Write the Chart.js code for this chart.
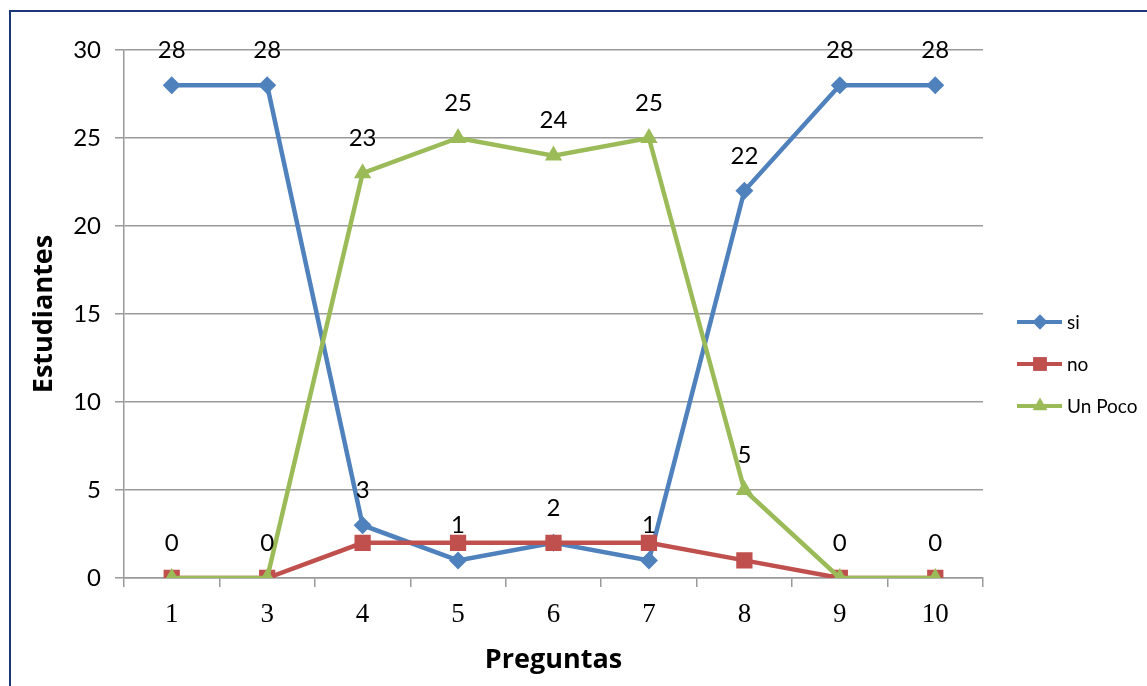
<!DOCTYPE html>
<html>
<head>
<meta charset="utf-8">
<script src="https://cdn.jsdelivr.net/npm/chart.js@4.4.1/dist/chart.umd.min.js"></script>
<style>
  html, body { margin: 0; padding: 0; background: #fff; overflow: hidden; }
  #wrap { position: relative; width: 1147px; height: 686px; }
  #frame { position: absolute; left: 9px; top: 10px; width: 1200px; height: 700px; border: 2px solid #1b3679; box-sizing: border-box; pointer-events: none; }
  canvas { position: absolute; left: 0; top: 0; }
</style>
</head>
<body>
<div id="wrap">
  <canvas id="c" width="1147" height="686"></canvas>
  <div id="frame"></div>
</div>
<script>
const categories = ['1', '3', '4', '5', '6', '7', '8', '9', '10'];
const siValues = [28, 28, 3, 1, 2, 1, 22, 28, 28];
const noValues = [0, 0, 2, 2, 2, 2, 1, 0, 0];
const unPocoValues = [0, 0, 23, 25, 24, 25, 5, 0, 0];
const seriesNames = ['si', 'no', 'Un Poco'];
const yTicks = [0, 5, 10, 15, 20, 25, 30];
const xTitle = 'Preguntas';
const yTitle = 'Estudiantes';

const colors = ['#4F81BD', '#C0504D', '#9BBB59'];
const styles = ['rectRot', 'rect', 'triangle'];
const radii = [9, 11.5, 10];
const labelled = [true, false, true];

function drawMarker(ctx, style, x, y, r, color) {
  ctx.save();
  ctx.fillStyle = color;
  ctx.beginPath();
  if (style === 'rectRot') {
    ctx.moveTo(x, y - r); ctx.lineTo(x + r, y); ctx.lineTo(x, y + r); ctx.lineTo(x - r, y);
  } else if (style === 'rect') {
    const s = r * Math.SQRT1_2;
    ctx.rect(x - s, y - s, 2 * s, 2 * s);
  } else {
    ctx.moveTo(x, y - r);
    ctx.lineTo(x + r * Math.sin(Math.PI * 2 / 3), y - r * Math.cos(Math.PI * 2 / 3));
    ctx.lineTo(x - r * Math.sin(Math.PI * 2 / 3), y - r * Math.cos(Math.PI * 2 / 3));
  }
  ctx.closePath();
  ctx.fill();
  ctx.restore();
}

const labelPlugin = {
  id: 'labels',
  afterDatasetsDraw(chart) {
    const ctx = chart.ctx;
    ctx.save();
    ctx.font = '24px Lato';
    ctx.fillStyle = '#000';
    ctx.textAlign = 'center';
    ctx.textBaseline = 'middle';
    chart.data.datasets.forEach((ds, i) => {
      if (!labelled[i]) return;
      const meta = chart.getDatasetMeta(i);
      meta.data.forEach((pt, j) => {
        ctx.fillText(String(ds.data[j]), pt.x, pt.y - 35);
      });
    });
    ctx.restore();
  },
  afterDraw(chart) {
    const ctx = chart.ctx;
    const ys = [322, 364, 406];
    ctx.save();
    seriesNames.forEach((name, i) => {
      const y = ys[i];
      ctx.strokeStyle = colors[i];
      ctx.lineWidth = 4;
      ctx.beginPath();
      ctx.moveTo(1017, y); ctx.lineTo(1062, y);
      ctx.stroke();
      drawMarker(ctx, styles[i], 1040, y, radii[i] * 0.85, colors[i]);
      ctx.fillStyle = '#000';
      ctx.font = '19px Lato';
      ctx.textAlign = 'left';
      ctx.textBaseline = 'middle';
      ctx.fillText(name, 1067, y + 1);
    });
    ctx.restore();
  }
};

const datasets = [siValues, noValues, unPocoValues].map((vals, i) => ({
  label: seriesNames[i],
  data: vals,
  borderColor: colors[i],
  backgroundColor: colors[i],
  borderWidth: 4.5,
  pointStyle: styles[i],
  pointRadius: radii[i],
  pointHoverRadius: radii[i],
  pointBorderWidth: 0,
  pointBackgroundColor: colors[i],
  tension: 0,
  order: 3 - i
}));

new Chart(document.getElementById('c'), {
  type: 'line',
  data: { labels: categories, datasets },
  options: {
    responsive: false,
    animation: false,
    events: [],
    layout: { padding: { left: 0, top: 50, right: 164, bottom: 0 } },
    plugins: { legend: { display: false }, tooltip: { enabled: false } },
    scales: {
      x: {
        offset: true,
        grid: { offset: true, drawOnChartArea: false, drawTicks: true, tickLength: 9, color: '#9a9a9a', lineWidth: 1.5 },
        border: { color: '#9a9a9a', width: 1.5 },
        ticks: { font: { family: 'Liberation Serif', size: 27 }, color: '#000', padding: 12 },
        title: { display: true, text: xTitle, font: { family: 'Open Sans', size: 27, weight: 'bold' }, color: '#000', padding: { top: 0, bottom: 9 } },
        afterFit(s) { s.height = 108; }
      },
      y: {
        min: 0, max: 30,
        afterBuildTicks(s) { s.ticks = yTicks.map(v => ({ value: v })); },
        grid: { color: '#9a9a9a', lineWidth: 1.5, tickLength: 9 },
        border: { color: '#9a9a9a', width: 1.5 },
        ticks: { font: { family: 'Lato', size: 24 }, color: '#000', padding: 14 },
        title: { display: true, text: yTitle, font: { family: 'Open Sans', size: 27, weight: 'bold' }, color: '#000', padding: { top: 28, bottom: 0 } },
        afterFit(s) { s.width = 124; }
      }
    }
  },
  plugins: [labelPlugin]
});
</script>
</body>
</html>
